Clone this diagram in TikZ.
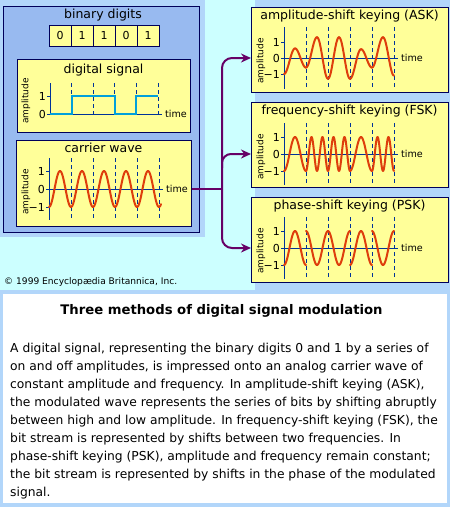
\documentclass[tikz,border=0pt]{standalone}
\usepackage{fontspec}
\setmainfont{DejaVu Sans}
\usetikzlibrary{arrows.meta}
\definecolor{bg}{RGB}{204,255,255}
\definecolor{shadowblue}{RGB}{178,214,250}
\definecolor{panelblue}{RGB}{152,186,240}
\definecolor{plotyellow}{RGB}{255,255,153}
\definecolor{navy}{RGB}{0,0,90}
\definecolor{axisblue}{RGB}{0,51,153}
\definecolor{wavered}{RGB}{222,62,12}
\definecolor{digblue}{RGB}{0,160,220}
\definecolor{connpurple}{RGB}{102,0,102}
\tikzset{
  plotbox/.style={draw=navy,line width=0.8pt,fill=plotyellow,inner sep=0pt,anchor=north west},
  bitbox/.style={draw=navy,line width=0.8pt,fill=plotyellow,inner sep=0pt,minimum width=22pt,minimum height=21pt,font=\fontsize{11}{12}\selectfont},
  boxtitle/.style={inner sep=0pt,font=\fontsize{12.5}{14}\selectfont},
  lab/.style={inner sep=0pt,font=\fontsize{11}{12}\selectfont},
  timelab/.style={inner sep=0pt,font=\fontsize{9.6}{11}\selectfont},
  amplab/.style={inner sep=0pt,font=\fontsize{9}{10}\selectfont},
  axisline/.style={axisblue,line width=1pt},
  dashline/.style={axisblue,line width=0.9pt,dash pattern=on 4pt off 3pt},
  wave/.style={wavered,line width=2pt,line cap=round,line join=round},
  conn/.style={connpurple,line width=2pt},
  connarrow/.style={connpurple,line width=2pt,-{Stealth[length=10pt,width=9pt]}}
}
% axes of a sine plot: #1 x0, #2 zero y, #3 scale, #4 name prefix
\newcommand\waxes[4]{%
  \draw[axisline] ({#1},{#2-31}) -- ({#1},{#2+31});
  \draw[axisline] ({#1},{#2}) -- ({#1+114},{#2});
  \foreach \v in {-1,0,1} \draw[axisline] ({#1-3},{#2-(\v)*#3}) -- ({#1},{#2-(\v)*#3});
  \foreach \k in {1,...,5} \draw[dashline] ({#1+22*\k},{#2-31}) -- ({#1+22*\k},{#2+31});
  \node[lab,anchor=east] (#4one) at ({#1-4},{#2-#3}) {1};
  \node[lab,anchor=east] (#4zero) at ({#1-4},{#2}) {0};
  \node[lab,anchor=east] (#4mone) at ({#1-4},{#2+#3}) {−1};
  \node[timelab,anchor=west] (#4time) at ({#1+117},{#2}) {time};
  \node[amplab,rotate=90] (#4amp) at ({#1-23},{#2+3}) {amplitude};
}
% half wave from value #3 to value #4 between x=#1 and x=#2
\newcommand\hw[4]{\draw[wave] plot[domain=#1:#2,samples=16,smooth] (\x,{\yz-\sc*(((#3)+(#4))/2+((#3)-(#4))/2*cos(180/(#2-#1)*(\x-#1)))});}
% full-cycle pieces: #1 start x, #2 cycles, #3 sign (1 = starts at -1)
\newcommand\cyc[3]{\draw[wave] plot[domain=#1:#1+22,samples=50,smooth] (\x,{\yz+(#3)*\sc*cos((360/22)*#2*(\x-#1))});}
\begin{document}
\begin{tikzpicture}[x=1pt,y=-1pt]
\useasboundingbox (0,0) rectangle (450,507);
\fill[bg] (0,0) rectangle (450,507);

% ---------- left panel ----------
\fill[shadowblue] (0,0) rectangle (205,237);
\draw[navy,line width=1pt,fill=panelblue] (3,6) rectangle (199,232);
\node[boxtitle] (bdtitle) at (103,15.5) {binary digits};
\foreach \d [count=\i] in {0,1,1,0,1}
  \node[bitbox] (bit\i) at (38+22*\i,35.5) {\d};

% digital signal
\node[plotbox,minimum width=173pt,minimum height=73pt] (digbox) at (17,59) {};
\node[boxtitle] (digtitle) at (103.5,70.5) {digital signal};
\draw[axisline] (50,83) -- (50,114) -- (162,114);
\draw[axisline] (47,96) -- (50,96);
\draw[axisline] (47,114) -- (50,114);
\foreach \k in {1,...,5} \draw[dashline] ({50+21.6*\k},83) -- ({50+21.6*\k},114);
\draw[digblue,line width=2pt] (50,114) -- (71.6,114) -- (71.6,96) -- (114.8,96) -- (114.8,114) -- (136.4,114) -- (136.4,96) -- (158,96);
\node[lab,anchor=east] (digone) at (46,96) {1};
\node[lab,anchor=east] (digzero) at (46,114) {0};
\node[timelab,anchor=west] (digtime) at (165,114) {time};
\node[amplab,rotate=90] (digamp) at (26,101) {amplitude};

% carrier wave
\node[plotbox,minimum width=175pt,minimum height=86pt] (carbox) at (16,140) {};
\node[boxtitle] (cartitle) at (103.5,147.5) {carrier wave};
\waxes{49}{189}{18}{car}
\def\yz{189}\def\sc{18}
\draw[wave] plot[domain=49:161,samples=200,smooth] (\x,{\yz+\sc*cos((360/22)*(\x-49))});

% ---------- right boxes ----------
\fill[shadowblue] (255,0) rectangle (450,290);
\node[plotbox,minimum width=197pt,minimum height=85pt] (ask) at (251,7) {};
\node[plotbox,minimum width=197pt,minimum height=85pt] (fsk) at (251,102) {};
\node[plotbox,minimum width=197pt,minimum height=85pt] (psk) at (251,197) {};
\node[boxtitle] (asktitle) at (349.5,16.5) {amplitude-shift keying (ASK)};
\node[boxtitle] (fsktitle) at (349.5,111.5) {frequency-shift keying (FSK)};
\node[boxtitle] (psktitle) at (349.5,206.5) {phase-shift keying (PSK)};

% ASK
\waxes{284}{58}{16}{ask}
\def\yz{58}\def\sc{16}
\hw{284}{295}{-1}{0.6}\hw{295}{306}{0.6}{-0.6}
\hw{306}{317}{-0.6}{1.3}\hw{317}{328}{1.3}{-1.3}
\hw{328}{339}{-1.3}{1.3}\hw{339}{350}{1.3}{-1.3}
\hw{350}{361}{-1.3}{0.55}\hw{361}{372}{0.55}{-0.6}
\hw{372}{383}{-0.6}{1.3}\hw{383}{394}{1.3}{-1.1}

% FSK
\waxes{284}{154}{17}{fsk}
\def\yz{154}\def\sc{17}
\cyc{284}{1}{1}\cyc{306}{2}{1}\cyc{328}{2}{1}\cyc{350}{1}{1}\cyc{372}{2}{1}

% PSK
\waxes{284}{248}{17}{psk}
\def\yz{248}\def\sc{17}
\cyc{284}{1}{1}\cyc{306}{1}{-1}\cyc{328}{1}{-1}\cyc{350}{1}{1}\cyc{372}{1}{-1}

% ---------- connectors ----------
\coordinate (split) at (222,189);
\coordinate (fskbranch) at (222,168);
\draw[conn] (carbox.east |- split) -- (split);
\draw[connarrow,rounded corners=10pt] (split) |- (ask.west |- askzero.east);
\draw[connarrow,rounded corners=10pt] (split) |- (psk.west |- pskzero.east);
\draw[connarrow,rounded corners=9pt] (fskbranch) |- (fsk.west |- fskzero.east);

% copyright
\node[inner sep=0pt,anchor=west,font=\fontsize{9.1}{10}\selectfont] (copy) at (4,282) {© 1999 Encyclopædia Britannica, Inc.};

% ---------- caption ----------
\fill[shadowblue] (0,290) rectangle (450,507);
\fill[white] (3,294) rectangle (447,503);
\node[inner sep=0pt,font=\fontsize{13.2}{15}\selectfont\bfseries] (captitle) at (221.5,311) {Three methods of digital signal modulation};
\node[inner sep=0pt,anchor=north west,align=left,font=\fontsize{12.3}{18}\selectfont] (captext) at (10,343.2) {%
A digital signal, representing the binary digits 0 and 1 by a series of\\
on and off amplitudes, is impressed onto an analog carrier wave of\\
constant amplitude and frequency. In amplitude-shift keying (ASK),\\
the modulated wave represents the series of bits by shifting abruptly\\
between high and low amplitude. In frequency-shift keying (FSK), the\\
bit stream is represented by shifts between two frequencies. In\\
phase-shift keying (PSK), amplitude and frequency remain constant;\\
the bit stream is represented by shifts in the phase of the modulated\\
signal.};
\end{tikzpicture}
\end{document}
